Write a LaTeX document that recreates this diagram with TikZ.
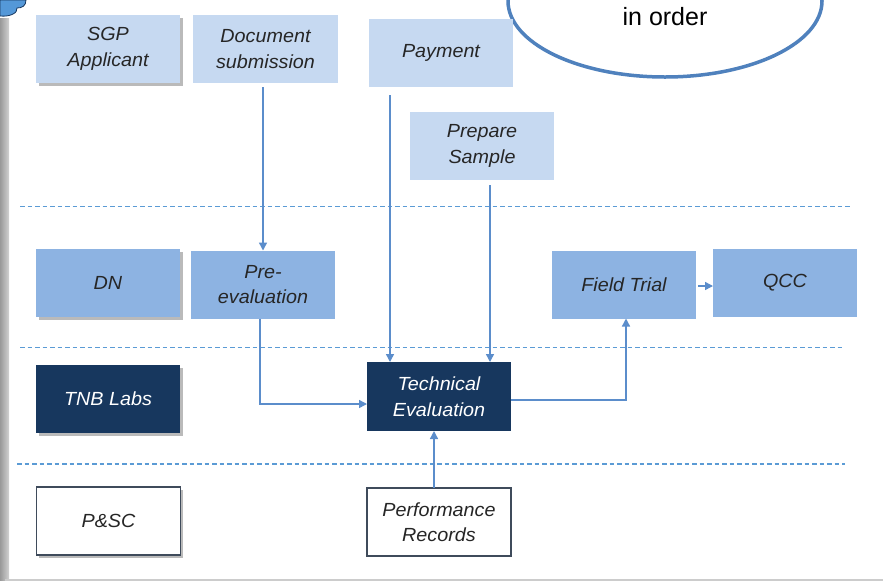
\documentclass[tikz,border=0pt]{standalone}
\usepackage{fontspec}
\setmainfont{Liberation Sans}
\newfontfamily\bxfont[FakeStretch=1.04]{Liberation Sans}
\usetikzlibrary{arrows.meta,shadows,shapes.geometric}
\definecolor{lightbx}{HTML}{C6D9F1}
\definecolor{midbx}{HTML}{8DB3E2}
\definecolor{darkbx}{HTML}{17375E}
\definecolor{arrcol}{HTML}{5B8DCB}
\definecolor{dashcol}{HTML}{5B9BD5}
\definecolor{ellcol}{HTML}{4F81BD}
\definecolor{txtcol}{HTML}{262626}
\definecolor{bordcol}{HTML}{3F4B5B}
\tikzset{
  bx/.style={rectangle, inner sep=0pt, outer sep=0pt, minimum width=144pt, minimum height=68pt,
    align=center, font=\bxfont\itshape\fontsize{19}{25.5}\selectfont, text=txtcol},
  lbx/.style={bx, fill=lightbx},
  mbx/.style={bx, fill=midbx},
  dbx/.style={bx, fill=darkbx, text=white},
  wbx/.style={bx, fill=white, draw=bordcol, line width=1.5pt},
  shd/.style={drop shadow={shadow xshift=2.5pt, shadow yshift=-3pt, fill=black!60, opacity=0.45}},
  arr/.style={draw=arrcol, line width=1.4pt, -{Triangle[length=8pt,width=8pt]}},
  lane/.style={draw=dashcol, line width=1.5pt, dash pattern=on 4.5pt off 3pt},
}
\begin{document}
\begin{tikzpicture}[x=1pt,y=-1pt]
\useasboundingbox (0,0) rectangle (883,582);
\fill[white] (0,0) rectangle (883,582);
% left gray bar
\shade[left color=black!40, right color=black!18] (0,18) rectangle (9,580);
% bottom border
\draw[black!20, line width=2pt] (5,580) -- (883,580);
% top-left blob
\filldraw[fill=cyan!60!blue!70, draw=darkbx, line width=0.8pt]
  (0,0) -- (26,0) .. controls (26,6) and (22,8) .. (17,8)
  .. controls (18,13) and (10,17) .. (0,16) -- cycle;
% ellipse (cut off)
\begin{scope}
\clip (0,0) rectangle (883,582);
\draw[ellcol, line width=3.5pt, fill=white] (665,1) ellipse [x radius=157pt, y radius=76pt];
\node[font=\fontsize{25}{28}\selectfont, text=black, inner sep=0pt] (ord) at (665,17) {in order};
\end{scope}
% lanes
\draw[lane] (20,206.7) -- (850,206.7);
\draw[lane] (20,347.7) -- (845,347.7);
\draw[lane] (17,464) -- (845,464);
% boxes
\node[lbx, shd] (sgp) at (108,49) {SGP\\Applicant};
\node[lbx, minimum width=145pt] (doc) at (265.5,49) {Document\\submission};
\node[lbx] (pay) at (441,53) {Payment};
\node[lbx] (prep) at (482,146) {Prepare\\Sample};
\node[mbx, shd] (dn) at (108,283) {DN};
\node[mbx] (pre) at (263,284.5) {Pre-\\evaluation};
\node[mbx] (ft) at (624,284.5) {Field Trial};
\node[mbx] (qcc) at (785,283) {QCC};
\node[dbx, shd] (tnb) at (108,399) {TNB Labs};
\node[dbx, minimum height=69pt] (tech) at (439,396.5) {Technical\\Evaluation};
\node[wbx, shd] (psc) at (108.5,521) {P\&SC};
\node[wbx] (perf) at (439,522) {Performance\\Records};
% connectors
\draw[arr] ([xshift=-2.5pt,yshift=-4pt]doc.south) -- (pre.north);
\draw[arr] ([xshift=-51pt,yshift=-8pt]pay.south) -- ([xshift=-49pt]tech.north);
\draw[arr] ([xshift=8pt,yshift=-5pt]prep.south) -- ([xshift=51pt]tech.north);
\draw[arr] ([xshift=-3pt]pre.south) |- ([yshift=-7.5pt]tech.west);
\draw[arr] ([yshift=-3.5pt]tech.east) -| ([xshift=2pt]ft.south);
\draw[arr] ([xshift=2pt,yshift=-1.5pt]ft.east) -- ([yshift=-3pt]qcc.west);
\draw[arr] ([xshift=-5pt]perf.north) -- ([xshift=-5pt]tech.south);
\end{tikzpicture}
\end{document}
